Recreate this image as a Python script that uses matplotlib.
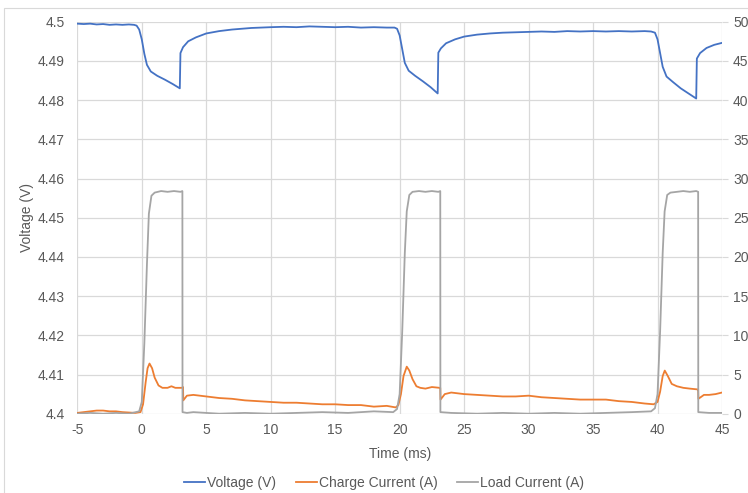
import matplotlib
matplotlib.use("Agg")
import matplotlib.pyplot as plt
from matplotlib.lines import Line2D
from matplotlib.patches import Rectangle

# Voltage trace (left axis)
volt_t = [-5, -4.5, -4, -3.5, -3, -2.5, -2, -1.5, -1, -0.6, -0.4, -0.2, 0.0, 0.2, 0.4,
          0.7, 1.2, 1.8, 2.4, 2.95, 3.0, 3.2, 3.6, 4.2, 5.0, 6.0, 7.0, 8.5, 10, 11, 12,
          13, 14, 15, 16, 17, 18, 19, 19.6, 19.8, 20.0, 20.2, 20.4, 20.7, 21.2, 21.8,
          22.4, 22.95, 23.0, 23.2, 23.6, 24.3, 25, 26, 27, 28, 29, 30, 31, 32, 33, 34,
          35, 36, 37, 38, 39, 39.5, 39.8, 40.0, 40.2, 40.4, 40.7, 41.2, 41.8, 42.4,
          43.0, 43.05, 43.3, 43.8, 44.4, 45]
volt_v = [4.4995, 4.4994, 4.4995, 4.4993, 4.4994, 4.4992, 4.4993, 4.4992, 4.4993,
          4.4992, 4.4990, 4.4980, 4.4955, 4.4918, 4.4890, 4.4873, 4.4862, 4.4852,
          4.4841, 4.4830, 4.4920, 4.4935, 4.4950, 4.4960, 4.4970, 4.4976, 4.4980,
          4.4984, 4.4986, 4.4987, 4.4986, 4.4988, 4.4987, 4.4986, 4.4987, 4.4985,
          4.4986, 4.4985, 4.4985, 4.4982, 4.4965, 4.4930, 4.4895, 4.4875, 4.4862,
          4.4848, 4.4833, 4.4817, 4.4921, 4.4932, 4.4945, 4.4955, 4.4962, 4.4967,
          4.4970, 4.4972, 4.4973, 4.4974, 4.4975, 4.4974, 4.4976, 4.4975, 4.4976,
          4.4975, 4.4976, 4.4975, 4.4976, 4.4975, 4.4972, 4.4955, 4.4920, 4.4885,
          4.4860, 4.4846, 4.4830, 4.4817, 4.4804, 4.4906, 4.4920, 4.4933, 4.4941, 4.4946]

# Charge current (right axis)
charge_t = [-5, -4.5, -4, -3.5, -3, -2.5, -2, -1.5, -1, -0.5, -0.1, 0.1, 0.3, 0.45,
            0.6, 0.8, 1.0, 1.3, 1.6, 2.0, 2.3, 2.6, 3.1, 3.2, 3.22, 3.5, 4, 4.5, 5, 6,
            7, 8, 9, 10, 11, 12, 13, 14, 15, 16, 17, 18, 19, 19.7, 19.9, 20.1, 20.3,
            20.55, 20.75, 21.0, 21.3, 21.6, 22, 22.5, 23.1, 23.15, 23.17, 23.5, 24, 25,
            26, 27, 28, 29, 30, 31, 32, 33, 34, 35, 36, 37, 38, 39, 39.7, 40.0, 40.2,
            40.4, 40.56, 40.8, 41.1, 41.5, 42, 42.5, 43.1, 43.15, 43.17, 43.6, 44, 44.5, 45]
charge_a = [0.1, 0.2, 0.3, 0.4, 0.4, 0.3, 0.3, 0.2, 0.15, 0.1, 0.2, 1.2, 4.0, 5.8,
            6.4, 5.8, 4.6, 3.6, 3.3, 3.3, 3.5, 3.3, 3.3, 3.4, 1.7, 2.3, 2.4, 2.3, 2.2, 2.0,
            1.9, 1.7, 1.6, 1.5, 1.4, 1.4, 1.3, 1.2, 1.2, 1.1, 1.1, 0.9, 1.0, 0.8, 1.1, 2.5,
            4.8, 6.0, 5.5, 4.4, 3.5, 3.3, 3.2, 3.4, 3.3, 3.3, 1.8, 2.5, 2.7, 2.5,
            2.4, 2.3, 2.2, 2.2, 2.3, 2.1, 2.0, 1.9, 1.8, 1.8, 1.8, 1.6, 1.5, 1.3, 1.2, 1.5,
            2.8, 4.8, 5.5, 4.8, 3.8, 3.5, 3.3, 3.2, 3.1, 3.1, 1.9, 2.4, 2.4, 2.5, 2.7]

# Load current (right axis)
load_t = [-5, -4, -3, -2, -1, -0.2, 0.0, 0.2, 0.4, 0.55, 0.75, 1.0, 1.5, 2.0, 2.5,
          3.0, 3.15, 3.16, 3.5, 4, 5, 6, 8, 10, 12, 14, 16, 18, 19.5, 19.8, 20.0,
          20.2, 20.4, 20.55, 20.75, 21.0, 21.5, 22, 22.5, 23.0, 23.15, 23.16, 24, 26,
          28, 30, 32, 34, 36, 38, 39.5, 39.8, 40.0, 40.2, 40.4, 40.55, 40.75, 41.0,
          41.5, 42, 42.5, 43.0, 43.15, 43.16, 44, 45]
load_a = [0.0, 0.1, 0.0, 0.1, 0.0, 0.3, 1.5, 9.0, 19.0, 25.5, 27.8, 28.2, 28.4, 28.3,
          28.4, 28.3, 28.4, 0.2, 0.1, 0.2, 0.1, 0.0, 0.1, 0.0, 0.1, 0.2, 0.1, 0.3, 0.2,
          0.6, 2.5, 10.5, 20.5, 25.8, 27.9, 28.3, 28.4, 28.3, 28.4, 28.3, 28.4, 0.2,
          0.1, 0.0, 0.1, 0.0, 0.1, 0.0, 0.1, 0.2, 0.3, 0.7, 2.5, 10.5, 20.5, 25.8,
          27.9, 28.2, 28.3, 28.4, 28.3, 28.4, 28.3, 0.2, 0.1, 0.1]

x_ticks = [-5, 0, 5, 10, 15, 20, 25, 30, 35, 40, 45]
volt_ticks = [4.4, 4.41, 4.42, 4.43, 4.44, 4.45, 4.46, 4.47, 4.48, 4.49, 4.5]
amp_ticks = [0, 5, 10, 15, 20, 25, 30, 35, 40, 45, 50]

plt.rcParams['font.family'] = ['Liberation Sans', 'DejaVu Sans']
plt.rcParams['font.size'] = 10
plt.rcParams['axes.unicode_minus'] = False

BLUE = '#4472C4'
ORANGE = '#ED7D31'
GRAY = '#A5A5A5'
TXT = '#595959'
GRID = '#D9D9D9'

fig = plt.figure(figsize=(7.48, 4.93), dpi=100)
fig.patches.append(Rectangle((4 / 748, -0.1), 1.2, 1 - 8 / 493 + 0.1,
                             transform=fig.transFigure, fill=False,
                             edgecolor=GRID, linewidth=0.8))

ax = fig.add_axes([77.3 / 748, 1 - 413.7 / 493, (722 - 77.3) / 748, (413.7 - 21.7) / 493])
ax.plot(volt_t, volt_v, color=BLUE, lw=1.3)
ax.set_xlim(-5, 45)
ax.set_ylim(4.4, 4.5)
ax.set_xticks(x_ticks)
ax.set_xticklabels([str(t) for t in x_ticks])
ax.set_yticks(volt_ticks)
ax.set_yticklabels(['4.4', '4.41', '4.42', '4.43', '4.44', '4.45', '4.46', '4.47',
                    '4.48', '4.49', '4.5'])
ax.grid(True, color=GRID, lw=0.9)
ax.set_axisbelow(True)
for s in ax.spines.values():
    s.set_visible(False)
ax.tick_params(axis='x', length=0, pad=7, labelcolor=TXT)
ax.tick_params(axis='y', length=0, pad=9, labelcolor=TXT)
ax.set_xlabel('Time (ms)', color=TXT, labelpad=7)
ax.set_ylabel('Voltage (V)', color=TXT, labelpad=2.5)

ax2 = ax.twinx()
ax2.plot(charge_t, charge_a, color=ORANGE, lw=1.3)
ax2.plot(load_t, load_a, color=GRAY, lw=1.3)
ax2.set_ylim(0, 50)
ax2.set_yticks(amp_ticks)
ax2.set_yticklabels([str(a) for a in amp_ticks])
for s in ax2.spines.values():
    s.set_visible(False)
ax2.tick_params(axis='y', length=4, color=GRID, pad=4, labelcolor=TXT)

handles = [Line2D([], [], color=BLUE, lw=1.3),
           Line2D([], [], color=ORANGE, lw=1.3),
           Line2D([], [], color=GRAY, lw=1.3)]
fig.legend(handles, ['Voltage (V)', 'Charge Current (A)', 'Load Current (A)'],
           loc='center', bbox_to_anchor=(384 / 748, 1 - 483 / 493), ncol=3,
           frameon=False, handlelength=1.5, handletextpad=0.15, columnspacing=1.4,
           labelcolor=TXT)

fig.savefig('out.png', dpi=100)
